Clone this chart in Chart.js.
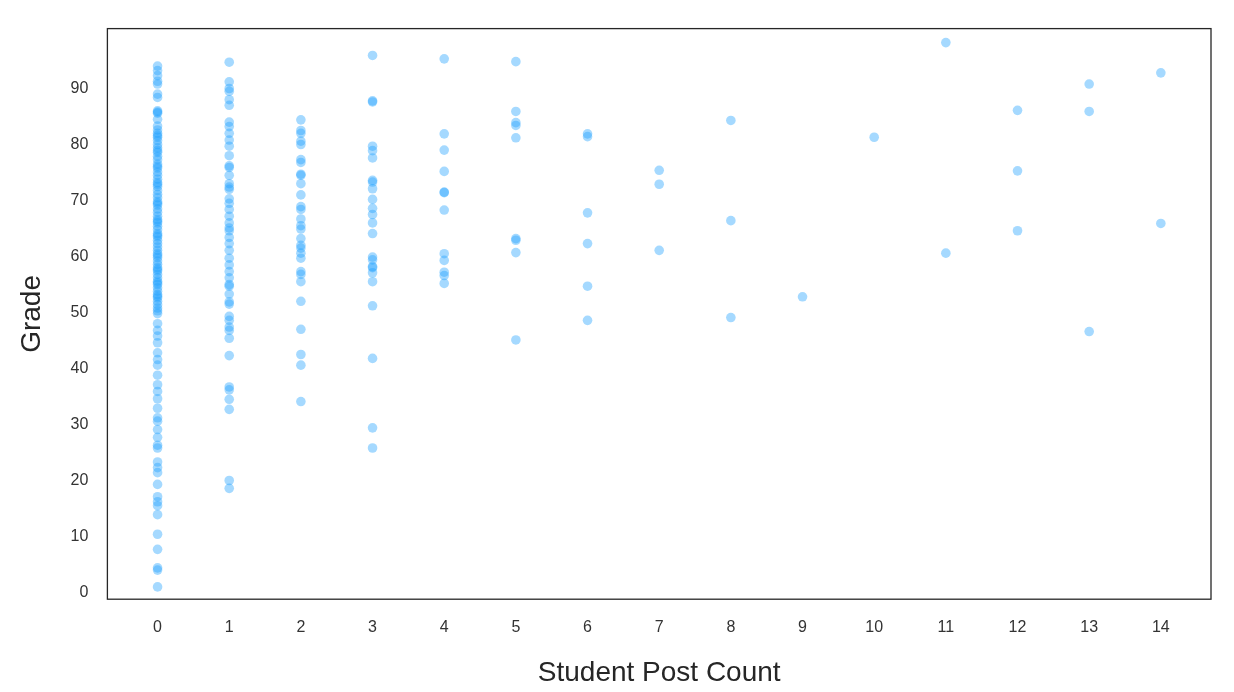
<!DOCTYPE html>
<html><head><meta charset="utf-8">
<script src="https://cdn.jsdelivr.net/npm/chart.js@4.4.1/dist/chart.umd.min.js"></script>
<style>html,body{margin:0;padding:0;background:#fff}#w{width:1234px;height:692px}</style>
</head><body><div id="w"><canvas id="c"></canvas></div>
<script>
const postCounts = [0,1,2,3,4,5,6,7,8,9,10,11,12,13,14];
const gradeTicks = [0,10,20,30,40,50,60,70,80,90];
const grades0 = [94,93.2,92.3,91.3,90.8,89,88.4,86,85.6,84.5,83.3,82.6,82,81.3,80.7,80,79.4,78.6,77.9,77.3,76.5,75.8,75.1,74.5,73.8,73.2,72.5,71.8,71.1,70.5,69.8,69.2,68.5,67.9,67.2,66.6,66,65.4,64.8,64.1,63.5,62.9,62.3,61.7,61.1,60.5,59.8,59.2,58.6,58,57.4,56.8,56.2,55.6,55,54.4,53.8,53.2,52.6,52,51.4,50.8,50.3,49.8,48,46.8,45.8,44.6,42.8,41.6,40.6,38.8,37.1,35.9,34.6,32.9,31.2,30.6,29.1,27.7,26.3,25.8,23.3,22.3,21.4,19.3,17.1,16.2,15.5,13.9,10.4,7.7,4.4,4.0,1.0,66.3,63.8,60.2,57.7,55.3,52.9,69.5,72.9,76.1,78.9,81.6,85.8];
const grades1 = [94.7,91.2,90,89.5,88,87,84,83.2,82,80.8,79.7,78,75.9,74.5,73,72,70.3,69.5,68.4,67.2,66,64.6,63.4,62.3,61.1,59.7,58.5,57.3,56.2,54.7,53.3,51.9,51.5,49.3,48.6,47.4,46.8,45.4,42.3,36.7,36.2,34.5,32.7,20.0,18.6,76.2,72.4,65.1,55];
const grades2 = [84.4,82.5,82,80.6,80,77.3,76.8,74.7,74.5,73,71,68.9,68.4,66.7,65.5,64.9,63.2,62,61.5,60.6,59.7,57.3,56.8,55.5,52,47,42.5,40.6,34.1];
const grades3 = [95.9,87.6,87.8,79.7,78.9,77.6,73.6,73.3,72.1,70.2,68.6,67.5,66,64.1,59.9,59.4,58,58.2,57.1,55.5,51.2,41.8,29.4,25.8];
const grades4 = [95.3,81.9,79,75.2,71.5,71.4,68.3,60.5,59.3,57.2,56.6,55.2];
const grades5 = [94.8,85.9,83.9,83.4,81.2,63.2,62.9,60.7,45.1];
const grades6 = [81.9,81.4,67.8,62.3,54.7,48.6];
const grades7 = [75.4,72.9,61.1];
const grades8 = [84.3,66.4,49.1];
const grades9 = [52.8];
const grades10 = [81.3];
const grades11 = [98.2,60.6];
const grades12 = [86.1,75.3,64.6];
const grades13 = [90.8,85.9,46.6];
const grades14 = [92.8,65.9];
const allGrades = [grades0,grades1,grades2,grades3,grades4,grades5,grades6,grades7,grades8,grades9,grades10,grades11,grades12,grades13,grades14];

const pts = [];
allGrades.forEach((arr,i)=>arr.forEach(g=>pts.push({x:postCounts[i],y:g})));

const frame = {id:'frame',afterDraw(ch){const a=ch.chartArea,c=ch.ctx;c.save();c.strokeStyle='#262626';c.lineWidth=1.3;c.strokeRect(a.left,a.top,a.right-a.left,a.bottom-a.top);c.restore();}};
const F = "'Liberation Sans', Arial, sans-serif";
new Chart(document.getElementById('c'),{
  type:'scatter',
  data:{datasets:[{data:pts,backgroundColor:'rgba(30,160,255,0.40)',borderWidth:0,pointRadius:4.8,pointHoverRadius:4.8}]},
  options:{responsive:true,maintainAspectRatio:false,animation:false,
    layout:{padding:{top:12,right:23,left:11,bottom:0}},
    plugins:{legend:{display:false},tooltip:{enabled:false}},
    scales:{
      x:{type:'linear',min:-0.7,max:14.7,grid:{display:false,drawTicks:false},border:{display:false},
        afterBuildTicks(s){s.ticks=postCounts.map(v=>({value:v}));},
        ticks:{color:'#333',font:{family:F,size:16},padding:19,autoSkip:false},
        title:{display:true,text:'Student Post Count',color:'#262626',font:{family:F,size:28},padding:{top:0,bottom:2}}},
      y:{type:'linear',min:-1.2,max:100.7,grid:{display:false,drawTicks:false},border:{display:false},
        afterBuildTicks(s){s.ticks=gradeTicks.map(v=>({value:v}));},
        ticks:{color:'#333',font:{family:F,size:16},padding:19,autoSkip:false},
        title:{display:true,text:'Grade',color:'#262626',font:{family:F,size:28},padding:{bottom:3}}}
    }},
  plugins:[frame]
});
</script></body></html>
